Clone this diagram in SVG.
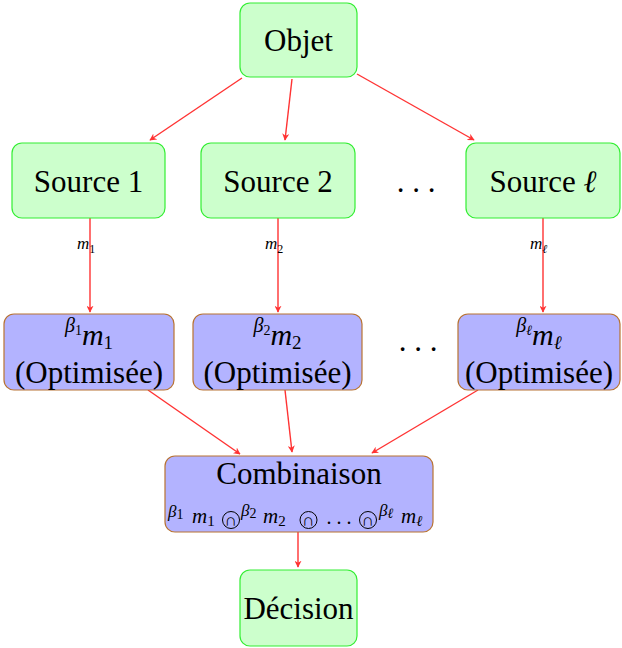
<svg xmlns="http://www.w3.org/2000/svg" width="622" height="648" viewBox="0 0 622 648">
  <defs>
    <marker id="arr" viewBox="0 0 10 10" refX="9" refY="5" markerWidth="7" markerHeight="7" orient="auto" markerUnits="userSpaceOnUse">
      <path d="M0,0 L10,5 L0,10 L3,5 Z" fill="#ff3333"/>
    </marker>
  </defs>

  <!-- red arrows between the nodes -->
  <g id="connectors" stroke="#ff3333" stroke-width="1.4" fill="none" marker-end="url(#arr)">
    <line x1="242" y1="78" x2="150" y2="140"/>
    <line x1="292" y1="79" x2="285" y2="140"/>
    <line x1="357" y1="74" x2="474" y2="140"/>
    <line x1="90" y1="218" x2="90" y2="312"/>
    <line x1="278" y1="218" x2="278" y2="312"/>
    <line x1="543" y1="218" x2="543" y2="312"/>
    <line x1="148" y1="390" x2="240" y2="454"/>
    <line x1="285" y1="390" x2="292" y2="452"/>
    <line x1="478" y1="390" x2="372" y2="453"/>
    <line x1="298" y1="532" x2="298" y2="567"/>
  </g>
  <!-- edge labels -->
  <g id="edge-labels" fill="#000">
    <text font-family="Liberation Serif" x="77" y="249"><tspan font-style="italic" font-size="17">m</tspan><tspan font-size="12" dy="4">1</tspan></text>
    <text font-family="Liberation Serif" x="265" y="249"><tspan font-style="italic" font-size="17">m</tspan><tspan font-size="12" dy="4">2</tspan></text>
    <text font-family="Liberation Serif" x="530" y="249"><tspan font-style="italic" font-size="17">m</tspan><tspan font-style="italic" font-size="12" dy="4">&#8467;</tspan></text>
  </g>

  <g id="objet">
    <rect fill="#ccffcc" stroke="#33ee33" stroke-width="1.2" x="240" y="3" width="117" height="74" rx="10"/>
    <text font-family="Liberation Serif" font-size="31" text-anchor="middle" x="298.5" y="51">Objet</text>
  </g>

  <g id="source1">
    <rect fill="#ccffcc" stroke="#33ee33" stroke-width="1.2" x="12" y="143" width="153" height="75" rx="10"/>
    <text font-family="Liberation Serif" font-size="31" text-anchor="middle" x="88.5" y="192">Source 1</text>
  </g>
  <g id="source2">
    <rect fill="#ccffcc" stroke="#33ee33" stroke-width="1.2" x="201" y="143" width="154" height="75" rx="10"/>
    <text font-family="Liberation Serif" font-size="31" text-anchor="middle" x="278" y="192">Source 2</text>
  </g>
  <g id="dots1">
    <text font-family="Liberation Serif" font-size="31" text-anchor="middle" x="416" y="192">. . .</text>
  </g>
  <g id="sourceL">
    <rect fill="#ccffcc" stroke="#33ee33" stroke-width="1.2" x="466" y="143" width="154" height="75" rx="10"/>
    <text font-family="Liberation Serif" font-size="31" text-anchor="middle" x="543" y="192">Source <tspan font-style="italic">&#8467;</tspan></text>
  </g>

  <g id="opt1">
    <rect fill="#b3b3ff" stroke="#b87333" stroke-width="1.2" x="4" y="314" width="170" height="76" rx="10"/>
    <text font-family="Liberation Serif" font-size="30" text-anchor="middle" x="89" y="332"><tspan font-style="italic" font-size="20">&#946;</tspan><tspan font-size="14" dy="3">1</tspan><tspan font-style="italic" font-size="30" dy="10">m</tspan><tspan font-size="19" dy="4">1</tspan></text>
    <text font-family="Liberation Serif" font-size="31" text-anchor="middle" x="89" y="383">(Optimis&#233;e)</text>
  </g>
  <g id="opt2">
    <rect fill="#b3b3ff" stroke="#b87333" stroke-width="1.2" x="193" y="314" width="169" height="76" rx="10"/>
    <text font-family="Liberation Serif" font-size="30" text-anchor="middle" x="277.5" y="332"><tspan font-style="italic" font-size="20">&#946;</tspan><tspan font-size="14" dy="3">2</tspan><tspan font-style="italic" font-size="30" dy="10">m</tspan><tspan font-size="19" dy="4">2</tspan></text>
    <text font-family="Liberation Serif" font-size="31" text-anchor="middle" x="277.5" y="383">(Optimis&#233;e)</text>
  </g>
  <g id="dots2">
    <text font-family="Liberation Serif" font-size="31" text-anchor="middle" x="418" y="351">. . .</text>
  </g>
  <g id="optL">
    <rect fill="#b3b3ff" stroke="#b87333" stroke-width="1.2" x="458" y="314" width="162" height="76" rx="10"/>
    <text font-family="Liberation Serif" font-size="30" text-anchor="middle" x="539" y="332"><tspan font-style="italic" font-size="20">&#946;</tspan><tspan font-style="italic" font-size="14" dy="3">&#8467;</tspan><tspan font-style="italic" font-size="30" dy="10">m</tspan><tspan font-style="italic" font-size="19" dy="4">&#8467;</tspan></text>
    <text font-family="Liberation Serif" font-size="31" text-anchor="middle" x="539" y="383">(Optimis&#233;e)</text>
  </g>

  <g id="combinaison">
    <rect fill="#b3b3ff" stroke="#b87333" stroke-width="1.2" x="165" y="456" width="268" height="76" rx="10"/>
    <text font-family="Liberation Serif" font-size="31" text-anchor="middle" x="299" y="484">Combinaison</text>
    <!-- combination formula; each operator is an intersection sign inside a ring -->
    <text font-family="Liberation Serif" x="168" y="517"><tspan font-style="italic" font-size="17">&#946;</tspan><tspan font-size="14" dy="2">1</tspan></text>
    <text font-family="Liberation Serif" x="192" y="523"><tspan font-style="italic" font-size="21">m</tspan><tspan font-size="15" dy="3">1</tspan></text>
    <circle fill="none" stroke="#000" stroke-width="1" cx="231" cy="520" r="8.5"/>
    <text font-family="Liberation Serif" font-size="17" text-anchor="middle" x="231" y="526">&#8745;</text>
    <text font-family="Liberation Serif" x="241" y="516"><tspan font-style="italic" font-size="17">&#946;</tspan><tspan font-size="14" dy="2">2</tspan></text>
    <text font-family="Liberation Serif" x="263" y="523"><tspan font-style="italic" font-size="21">m</tspan><tspan font-size="15" dy="3">2</tspan></text>
    <circle fill="none" stroke="#000" stroke-width="1" cx="308.5" cy="520" r="8.5"/>
    <text font-family="Liberation Serif" font-size="17" text-anchor="middle" x="308.5" y="526">&#8745;</text>
    <text font-family="Liberation Serif" font-size="20" text-anchor="middle" x="339" y="524">. . .</text>
    <circle fill="none" stroke="#000" stroke-width="1" cx="368" cy="520" r="8.5"/>
    <text font-family="Liberation Serif" font-size="17" text-anchor="middle" x="368" y="526">&#8745;</text>
    <text font-family="Liberation Serif" x="379" y="516"><tspan font-style="italic" font-size="17">&#946;</tspan><tspan font-style="italic" font-size="14" dy="2">&#8467;</tspan></text>
    <text font-family="Liberation Serif" x="401" y="523"><tspan font-style="italic" font-size="21">m</tspan><tspan font-style="italic" font-size="15" dy="3">&#8467;</tspan></text>
  </g>

  <g id="decision">
    <rect fill="#ccffcc" stroke="#33ee33" stroke-width="1.2" x="240" y="570" width="117" height="76" rx="10"/>
    <text font-family="Liberation Serif" font-size="31" text-anchor="middle" x="298.5" y="619">D&#233;cision</text>
  </g>
</svg>
